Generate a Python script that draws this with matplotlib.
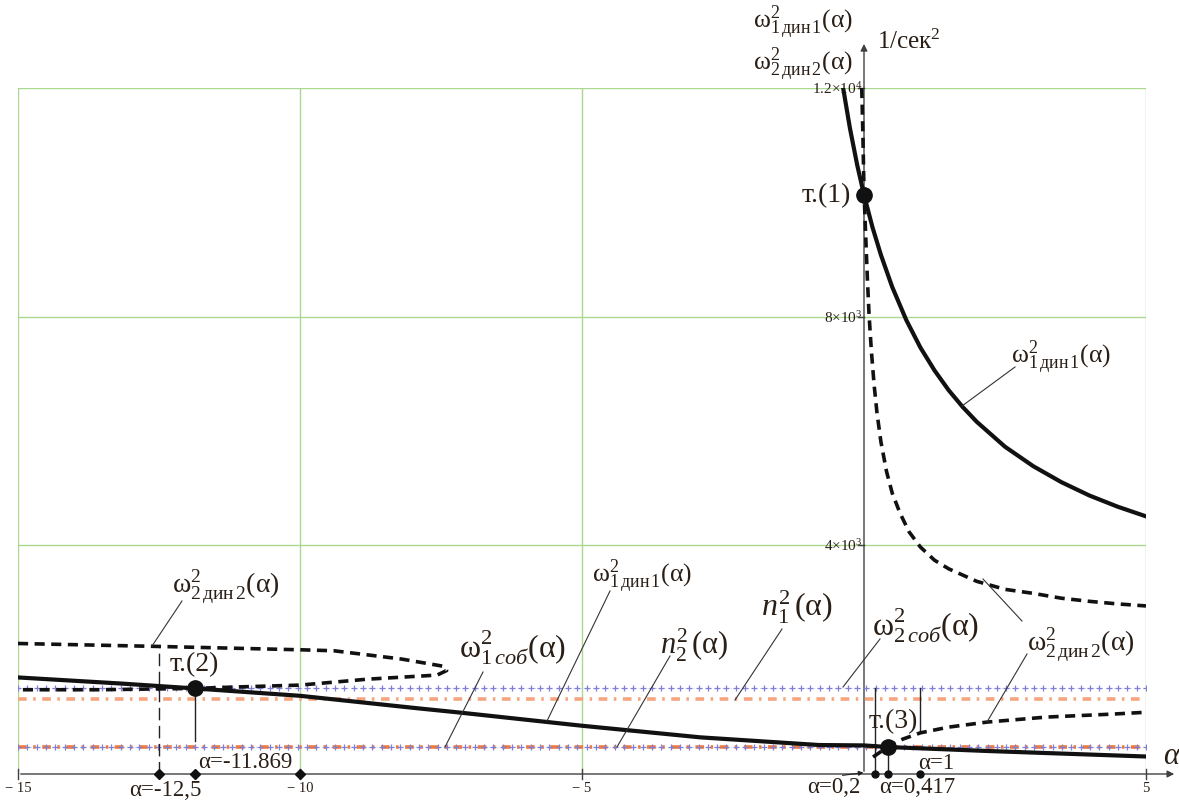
import numpy as np
import matplotlib
matplotlib.use("Agg")
import matplotlib.pyplot as plt
from matplotlib.lines import Line2D

plt.rcParams['font.family'] = ['Liberation Serif', 'DejaVu Serif']
plt.rcParams['mathtext.fontset'] = 'custom'
plt.rcParams['mathtext.rm'] = 'Liberation Serif'
plt.rcParams['mathtext.it'] = 'Liberation Serif:italic'
plt.rcParams['mathtext.bf'] = 'Liberation Serif:bold'

# ---------------- data ----------------
# omega^2_1dyn1 : lower branch (solid)
a_w1_low = [-15, -13.2, -11.869, -10, -7.9, -7.2, -5, -2.9, -0.8, 0.0, 0.417, 2.2, 5]
w1_low = [1689, 1584, 1497, 1368, 1148, 1078, 844, 641, 507, 500, 472, 402, 306]
# omega^2_1dyn1 : upper branch (solid)
a_w1_up = [-0.37, -0.25, -0.12, 0.0, 0.15, 0.3, 0.5, 0.75, 1.0, 1.25, 1.5, 1.75,
           2.0, 2.5, 3.0, 3.5, 4.0, 4.5, 5.0]
w1_up = [12000, 11300, 10650, 10130, 9565, 9080, 8520, 7940, 7460, 7060, 6715, 6420,
         6160, 5725, 5385, 5105, 4870, 4675, 4507]
# omega^2_2dyn2 : upper right branch (dashed)
a_w2_up = [-0.04, -0.02, 0.0, 0.03, 0.06, 0.09, 0.13, 0.18, 0.23, 0.3, 0.4, 0.5, 0.64,
           0.8, 1.0, 1.25, 1.5, 2.0, 2.5, 3.0, 3.5, 4.0, 4.5, 5.0]
w2_up = [12000, 11200, 10200, 9415, 8660, 8030, 7410, 6800, 6320, 5810, 5290, 4915, 4560,
         4235, 3970, 3740, 3590, 3370, 3230, 3160, 3075, 3020, 2975, 2940]
# omega^2_2dyn2 : left closed branch (dashed)
a_w2_left = [-15, -12.5, -10, -9.4, -8.2, -7.45, -7.4, -7.57, -8.8, -10, -11.2, -11.869, -13.55, -15]
w2_left = [2283, 2231, 2173, 2156, 2011, 1883, 1810, 1730, 1659, 1555, 1520, 1497, 1474, 1474]
# omega^2_2dyn2 : lower right branch (dashed)
a_w2_right = [0.16, 0.417, 0.69, 1.0, 1.5, 2.18, 3.24, 4.41, 5.0]
w2_right = [297, 472, 611, 720, 820, 908, 996, 1048, 1080]

# constant levels
w2_sob = 1510
n1_sq = 1315
w1_sob = 465
n2_sq = 465

# special points
pt_alpha = [0.0, -11.869, 0.417]
pt_w = [10130, 1497, 472]
pt_names = ['т.(1)', 'т.(2)', 'т.(3)']
mark_left = [-12.5, -11.869, -10]
mark_right = [0.2, 0.417, 1.0]

x_ticks = [-15, -10, -5, 5]
x_tick_labels = ['− 15', '− 10', '− 5', '5']
y_ticks = [4000, 8000, 12000]
y_tick_labels = [r'$4{\times}10^{3}$', r'$8{\times}10^{3}$', r'$1.2{\times}10^{4}$']

# ---------------- figure ----------------
W, H = 1179, 803
fig = plt.figure(figsize=(W / 100, H / 100), dpi=100)
ax = fig.add_axes([18 / W, 28 / H, 1128 / W, 686 / H])
ax.set_xlim(-15, 5)
ax.set_ylim(0, 12000)
ax.axis('off')

TXT = '#2a1f17'
GREEN = '#a9d88f'
BLUE = '#7f7fd8'
OR_HI = '#f6a57e'
OR_LO = '#f07a3c'

# grid
for xv in x_ticks:
    ax.plot([xv, xv], [0, 12000], color=GREEN, lw=1.0, zorder=1)
for yv in y_ticks:
    ax.plot([-15, 5], [yv, yv], color=GREEN, lw=1.0, zorder=1)

# axes lines with arrows
ax.annotate('', xy=(5.55, 0), xytext=(-15, 0),
            arrowprops=dict(arrowstyle='-|>', color='#404040', lw=1.0, mutation_scale=10),
            annotation_clip=False, zorder=2)
ax.annotate('', xy=(0, 12820), xytext=(0, 0),
            arrowprops=dict(arrowstyle='-|>', color='#404040', lw=1.0, mutation_scale=10),
            annotation_clip=False, zorder=2)
for xv in x_ticks:
    ax.plot([xv, xv], [-90, 90], color='#404040', lw=1.0, clip_on=False, zorder=2)
for yv in y_ticks:
    ax.plot([-0.1, 0.0], [yv, yv], color='#404040', lw=1.0, clip_on=False, zorder=2)

# tick labels
for xv, lab in zip(x_ticks, x_tick_labels):
    ax.text(xv, -230, lab, ha='center', va='center', fontsize=10.5, color=TXT)
for yv, lab in zip(y_ticks, y_tick_labels):
    ax.text(-0.03, yv, lab, ha='right', va='center', fontsize=11, color=TXT)

# horizontal levels
xs_line = np.linspace(-15, 5, 122)
def level(val, color, kind, lw, z):
    yy = np.full_like(xs_line, val, dtype=float)
    if kind == 'blue':
        ax.plot(xs_line, yy, color=color, lw=0.6, ls=(0, (1, 4)), alpha=0.45, zorder=z)
        ax.plot(xs_line, yy, ls='none', marker='+', ms=4.0, mew=0.9, color=color, zorder=z)
    else:
        ax.plot(xs_line, yy, color=color, lw=lw, ls=(0, (2.4, 1.8, 0.7, 1.8)),
                dash_capstyle='butt', zorder=z)

level(w2_sob, BLUE, 'blue', 1, 3)
level(n1_sq, OR_HI, 'orange', 2.6, 3)
level(n2_sq, OR_LO, 'orange', 2.6, 3)
level(w1_sob, BLUE, 'blue', 1, 4)

# curves
ax.plot(a_w1_low, w1_low, color='#111111', lw=3.0, zorder=6, solid_joinstyle='round')
ax.plot(a_w1_up, w1_up, color='#111111', lw=3.0, zorder=6, solid_joinstyle='round')
dash = (0, (2.8, 1.8))
for a, w in [(a_w2_up, w2_up), (a_w2_left, w2_left), (a_w2_right, w2_right)]:
    ax.plot(a, w, color='#111111', lw=2.6, ls=dash, zorder=5, dash_capstyle='butt')

# vertical guide lines
ax.plot([mark_left[0]] * 2, [0, 2250], color='#222222', lw=1.0, ls=(0, (9, 4)), zorder=4)
ax.plot([mark_left[1]] * 2, [580, pt_w[1]], color='#222222', lw=1.0, zorder=4)
ax.plot([mark_right[0]] * 2, [0, w2_sob], color='#222222', lw=1.0, zorder=4)
ax.plot([mark_right[1]] * 2, [0, pt_w[2]], color='#222222', lw=1.0, zorder=4)
ax.plot([mark_right[2]] * 2, [740, w2_sob], color='#222222', lw=1.0, zorder=4)

# axis markers
ax.plot(mark_left, [0] * 3, ls='none', marker='D', ms=5.5, color='#111111', clip_on=False, zorder=7)
ax.plot(mark_right, [0] * 3, ls='none', marker='o', ms=5, color='#111111', clip_on=False, zorder=7)

# special points
ax.plot(pt_alpha, pt_w, ls='none', marker='o', ms=11, color='#111111', zorder=8)

# ---------------- texts ----------------
def T(px, py, s, size=15, ha='center', va='center', **kw):
    fig.text(px / W, 1 - py / H, s, ha=ha, va=va, fontsize=size, color=TXT, **kw)

def leader(p0, p1):
    fig.add_artist(Line2D([p0[0] / W, p1[0] / W], [1 - p0[1] / H, 1 - p1[1] / H],
                          color='#333333', lw=0.8, zorder=9))

L_w1 = r'$\mathrm{ω}^{2}_{1\,\mathrm{дин}\,1}\mathrm{(α)}$'
L_w2 = r'$\mathrm{ω}^{2}_{2\,\mathrm{дин}\,2}\mathrm{(α)}$'
L_w1s = r'$\mathrm{ω}^{2}_{1\,\mathit{соб}}\mathrm{(α)}$'
L_w2s = r'$\mathrm{ω}^{2}_{2\,\mathit{соб}}\mathrm{(α)}$'
L_n1 = r'$\mathit{n}^{2}_{1}\,\mathrm{(α)}$'
L_n2 = r'$\mathit{n}^{2}_{2}\,\mathrm{(α)}$'

# axis titles
T(853, 22, L_w1, 18.5, ha='right')
T(853, 64, L_w2, 18.5, ha='right')
T(877, 42, r'$\mathrm{1/сек}^{2}$', 18, ha='left')
T(1171, 757, 'α', 22, style='italic')

# special point names
T(851, 196, pt_names[0], 20, ha='right')
T(194, 665, pt_names[1], 20)
T(893, 722, pt_names[2], 20)

# alpha annotations
T(245, 763, 'α=-11.869', 16.5)
T(165, 791, 'α=-12,5', 16.5)
T(834, 788, 'α=0,2', 16.5)
T(917, 788, 'α=0,417', 16.5)
T(936, 764, 'α=1', 16.5)
ax.annotate('', xy=(0.04, 30), xytext=(-0.43, -30),
            arrowprops=dict(arrowstyle='-|>', color='#222222', lw=0.8, mutation_scale=7),
            annotation_clip=False)

# curve labels + leaders
T(1061, 357, L_w1, 18.5)
leader((1015, 368), (962, 407))

T(1081, 645, L_w2, 20)
leader((1022, 622), (983, 580))
leader((1027, 655), (987, 723))

T(926, 626, L_w2s, 23)
leader((880, 640), (843, 688))

T(797, 607, L_n1, 23)
leader((782, 630), (735, 701))

T(694, 645, L_n2, 22)
leader((670, 657), (617, 748))

T(513, 648, L_w1s, 23)
leader((483, 673), (445, 748))

T(642, 576, L_w1, 18.5)
leader((610, 592), (547, 722))

T(226, 587, L_w2, 20)
leader((182, 602), (152, 647))

fig.savefig('out.png', dpi=100)
